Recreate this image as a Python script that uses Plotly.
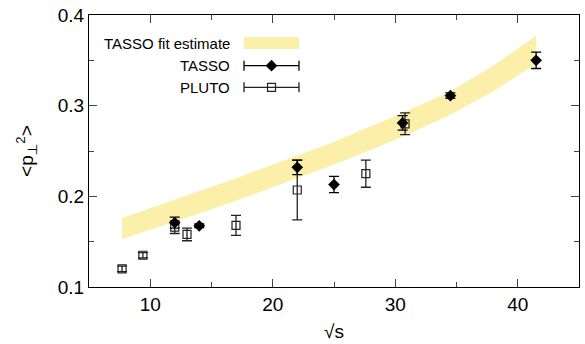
import plotly.graph_objects as go

# ---- data ----
tasso_x = [12.0, 14.0, 22.0, 25.0, 30.6, 34.5, 41.5]
tasso_y = [0.171, 0.1675, 0.232, 0.213, 0.281, 0.311, 0.350]
tasso_err = [0.006, 0.002, 0.008, 0.009, 0.008, 0.003, 0.009]

pluto_x = [7.7, 9.4, 12.0, 13.0, 17.0, 22.0, 27.6, 30.8]
pluto_y = [0.120, 0.135, 0.166, 0.158, 0.168, 0.207, 0.225, 0.280]
pluto_err = [0.003, 0.003, 0.007, 0.007, 0.011, 0.033, 0.015, 0.012]

band_x = [7.7, 12.0, 14.0, 17.0, 22.0, 25.0, 27.6, 30.6, 34.5, 38.0, 41.5]
band_hi = [0.176, 0.196, 0.206, 0.220, 0.245, 0.260, 0.275, 0.292, 0.316, 0.344, 0.377]
band_lo = [0.153, 0.172, 0.181, 0.195, 0.220, 0.235, 0.249, 0.266, 0.290, 0.316, 0.346]

x_ticks = [10, 20, 30, 40]
y_ticks = [0.1, 0.2, 0.3, 0.4]

legend_labels = ["TASSO fit estimate", "TASSO", "PLUTO"]

BAND = "#fcefaa"
FONT = "Liberation Sans, Arial, sans-serif"
TITLE_FONT = "Liberation Sans, DejaVu Sans, sans-serif"

fig = go.Figure()

# band
fig.add_trace(go.Scatter(x=band_x, y=band_lo, mode="lines", line=dict(width=0, color=BAND),
                         showlegend=False, hoverinfo="skip"))
fig.add_trace(go.Scatter(x=band_x, y=band_hi, mode="lines", line=dict(width=0, color=BAND),
                         fill="tonexty", fillcolor=BAND, showlegend=False, hoverinfo="skip"))

# PLUTO
fig.add_trace(go.Scatter(
    x=pluto_x, y=pluto_y, mode="markers",
    marker=dict(symbol="square-open", size=8, color="#222", line=dict(width=1.2, color="#222")),
    error_y=dict(type="data", array=pluto_err, visible=True, color="#222", thickness=1.3, width=5),
    showlegend=False))

# TASSO
fig.add_trace(go.Scatter(
    x=tasso_x, y=tasso_y, mode="markers",
    marker=dict(symbol="diamond", size=9, color="black"),
    error_y=dict(type="data", array=tasso_err, visible=True, color="black", thickness=1.3, width=5),
    showlegend=False))

# ---- manual gnuplot-style legend on an overlay [0,1] axis pair ----
def px2x(px):
    return (px - 88.8) / 490.5

def py2y(py):
    return (287 - py) / 272

row_y = [py2y(43), py2y(65.7), py2y(87.3)]
text_right = px2x(232)
samp_l, samp_r = px2x(244), px2x(299)
samp_c = (samp_l + samp_r) / 2
half = (samp_r - samp_l) / 2

fig.add_shape(type="rect", xref="x2", yref="y2", x0=samp_l, x1=samp_r,
              y0=py2y(37), y1=py2y(49), fillcolor=BAND, line=dict(width=0), layer="below")

fig.add_trace(go.Scatter(
    x=[samp_c], y=[row_y[1]], xaxis="x2", yaxis="y2", mode="markers",
    marker=dict(symbol="diamond", size=9, color="black"),
    error_x=dict(type="constant", value=half, color="black", thickness=1.3, width=5),
    showlegend=False, hoverinfo="skip"))
fig.add_trace(go.Scatter(
    x=[samp_c], y=[row_y[2]], xaxis="x2", yaxis="y2", mode="markers",
    marker=dict(symbol="square-open", size=8, color="#222", line=dict(width=1.2, color="#222")),
    error_x=dict(type="constant", value=half, color="#222", thickness=1.3, width=5),
    showlegend=False, hoverinfo="skip"))

for lab, yy in zip(legend_labels, row_y):
    fig.add_annotation(x=text_right, y=yy, xref="x2", yref="y2", text=lab, showarrow=False,
                       xanchor="right", yanchor="middle", font=dict(size=15, color="black", family=FONT))

axis_common = dict(showgrid=False, zeroline=False, showline=True, linecolor="black", linewidth=1.3,
                   mirror="ticks", ticks="inside", ticklen=8, tickcolor="#444", tickwidth=1.3,
                   tickfont=dict(size=19, color="black", family=FONT))

fig.update_layout(
    width=585, height=344,
    margin=dict(l=89, r=6, t=15, b=57),
    paper_bgcolor="white", plot_bgcolor="white",
    font=dict(family=FONT, color="black"),
    xaxis=dict(range=[5, 45], tickvals=x_ticks,
               minor=dict(ticks="inside", ticklen=5, dtick=5, tick0=0, tickcolor="#444", tickwidth=1.3),
               title=dict(text="√s", font=dict(size=19, family=TITLE_FONT, color="black"), standoff=10),
               **axis_common),
    yaxis=dict(range=[0.1, 0.4], tickvals=y_ticks, tickformat=".1f",
               minor=dict(ticks="inside", ticklen=5, dtick=0.05, tick0=0, tickcolor="#444", tickwidth=1.3),
               title=dict(text="&lt;p<sub>⊥</sub><sup>2</sup>&gt;",
                          font=dict(size=19, family=TITLE_FONT, color="black"), standoff=18),
               **axis_common),
    xaxis2=dict(range=[0, 1], overlaying="x", visible=False, fixedrange=True),
    yaxis2=dict(range=[0, 1], overlaying="y", visible=False, fixedrange=True),
)

fig.write_html("out.html", config={"displayModeBar": False},
               post_script="document.body.style.margin='0';document.body.style.overflow='hidden';")
